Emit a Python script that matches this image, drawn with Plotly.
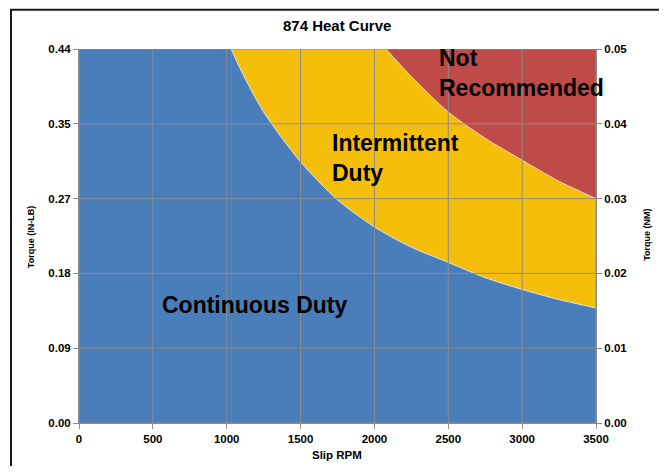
import plotly.graph_objects as go

# ---- data ----
TITLE = "874 Heat Curve"
X_TICKS = [0, 500, 1000, 1500, 2000, 2500, 3000, 3500]
NM_TICKS = [0.00, 0.01, 0.02, 0.03, 0.04, 0.05]
NM_TICK_LABELS = ["0.00", "0.01", "0.02", "0.03", "0.04", "0.05"]
INLB_PER_NM = 8.85
INLB_TICKS = [v * INLB_PER_NM for v in NM_TICKS]
INLB_TICK_LABELS = ["0.00", "0.09", "0.18", "0.27", "0.35", "0.44"]

# continuous duty limit (torque in IN-LB vs slip rpm)
CONT_RPM = [1030, 1100, 1250, 1500, 1750, 2000, 2250, 2500, 2750, 3000, 3250, 3500]
CONT_TQ = [0.4425, 0.416, 0.368, 0.309, 0.264, 0.232, 0.208, 0.190, 0.172, 0.158, 0.146, 0.136]

# intermittent duty limit
INT_RPM = [2078, 2250, 2500, 2750, 3000, 3250, 3500]
INT_TQ = [0.4425, 0.410, 0.368, 0.337, 0.311, 0.286, 0.2655]

X_MIN, X_MAX = X_TICKS[0], X_TICKS[-1]
Y_MAX = INLB_TICKS[-1]

BLUE = "#4A7EBB"
GOLD = "#F5BE0A"
RED = "#BE4B48"
GRID = "#8C8C8C"
FONT = "Liberation Sans, Arial, sans-serif"

fig = go.Figure()


def band(x, y, color, edge=None, spline=False):
    line = dict(width=1 if edge else 0, color=edge or color)
    if spline:
        line.update(shape="spline", smoothing=0.8)
    fig.add_trace(go.Scatter(x=x, y=y, mode="lines", line=line, fill="tozeroy",
                             fillcolor=color, hoverinfo="skip", showlegend=False))


# Not recommended zone (everything above the intermittent limit)
band([X_MIN, X_MAX], [Y_MAX, Y_MAX], RED)
# Intermittent zone: full height up to where the limit enters, then under the limit curve
band([X_MIN, INT_RPM[0]], [Y_MAX, INT_TQ[0]], GOLD)
band(INT_RPM, INT_TQ, GOLD, edge="rgba(255,225,225,0.85)", spline=True)
# Continuous zone
band([X_MIN, CONT_RPM[0]], [Y_MAX, CONT_TQ[0]], BLUE)
band(CONT_RPM, CONT_TQ, BLUE, edge="rgba(225,235,250,0.9)", spline=True)

# invisible trace for the secondary (NM) axis
fig.add_trace(go.Scatter(x=[X_MIN, X_MAX], y=[NM_TICKS[0], NM_TICKS[-1]], yaxis="y2",
                         mode="lines", line=dict(width=0), opacity=0,
                         hoverinfo="skip", showlegend=False))

shapes = []
for xv in X_TICKS:
    shapes.append(dict(type="line", xref="x", yref="y", x0=xv, x1=xv, y0=0, y1=Y_MAX,
                       line=dict(color=GRID, width=1), layer="above"))
for yv in INLB_TICKS:
    shapes.append(dict(type="line", xref="x", yref="y", x0=X_MIN, x1=X_MAX, y0=yv, y1=yv,
                       line=dict(color=GRID, width=1), layer="above"))
# outer chart border
shapes.append(dict(type="rect", xref="paper", yref="paper", x0=-0.1315, x1=1.1277,
                   y0=-0.16, y1=1.105, line=dict(color="#1a1a1a", width=2), layer="above"))

bold = dict(family=FONT, color="#000000", weight="bold")
annotations = [
    dict(text=TITLE, xref="paper", yref="paper", x=0.499, y=1.064, showarrow=False,
         font=dict(size=15, **bold), xanchor="center", yanchor="middle"),
    dict(text="Torque (IN-LB)", xref="paper", yref="paper", x=-0.0928, y=0.497, showarrow=False,
         textangle=-90, font=dict(size=9, **bold), xanchor="center", yanchor="middle"),
    dict(text="Torque (NM)", xref="paper", yref="paper", x=1.0986, y=0.503, showarrow=False,
         textangle=-90, font=dict(size=9, **bold), xanchor="center", yanchor="middle"),
    dict(text="Slip RPM", xref="paper", yref="paper", x=0.499, y=-0.0856, showarrow=False,
         font=dict(size=11.5, **bold), xanchor="center", yanchor="middle"),
    dict(text="Continuous Duty", xref="x", yref="y", x=551, y=0.1396, showarrow=False,
         font=dict(size=23, **bold), xanchor="left", yanchor="middle"),
    dict(text="Intermittent<br>Duty", xref="x", yref="y", x=1702, y=0.314, showarrow=False,
         font=dict(size=23, **bold), xanchor="left", yanchor="middle", align="left"),
    dict(text="Not<br>Recommended", xref="x", yref="y", x=2425, y=0.4137, showarrow=False,
         font=dict(size=23, **bold), xanchor="left", yanchor="middle", align="left"),
]

tickfont = dict(family=FONT, size=11.5, color="#000000", weight="bold")
axis_common = dict(showgrid=False, zeroline=False, showline=True, linecolor=GRID, linewidth=1,
                   ticks="outside", ticklen=5, tickcolor=GRID, tickfont=tickfont)
# the page adds an 8px body margin, so the figure is sized to fit the remaining window
fig.update_layout(
    width=659, height=458,
    margin=dict(l=71, r=71, t=41, b=43, autoexpand=False),
    paper_bgcolor="#FFFFFF", plot_bgcolor="#FFFFFF",
    xaxis=dict(range=[X_MIN, X_MAX], tickvals=X_TICKS, ticktext=[str(v) for v in X_TICKS],
               **axis_common),
    yaxis=dict(range=[0, Y_MAX], tickvals=INLB_TICKS, ticktext=INLB_TICK_LABELS, **axis_common),
    yaxis2=dict(range=[NM_TICKS[0], NM_TICKS[-1]], tickvals=NM_TICKS, ticktext=NM_TICK_LABELS,
                overlaying="y", side="right", **axis_common),
    shapes=shapes, annotations=annotations, showlegend=False,
)

fig.write_html("out.html")
